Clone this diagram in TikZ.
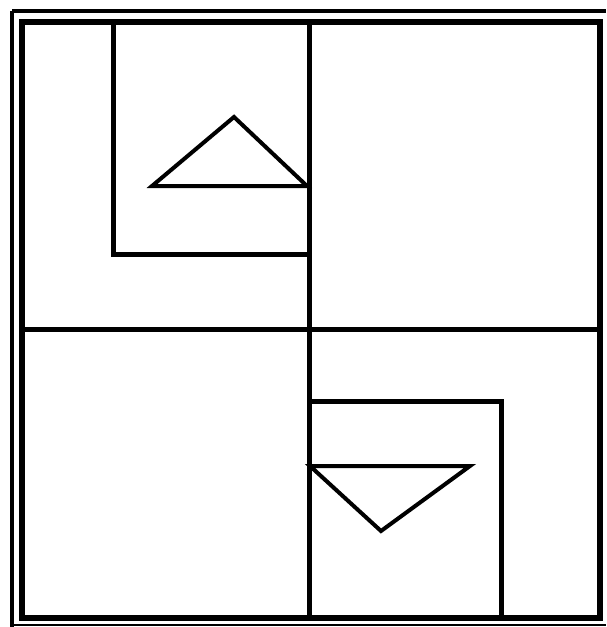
\documentclass[tikz,border=0pt]{standalone}
\begin{document}
\begin{tikzpicture}[x=1pt,y=-1pt,
  frame/.style={draw=black,line width=6pt},
  outerframe/.style={draw=black,line width=4.5pt},
  wall/.style={draw=black,line width=5pt},
  tri/.style={draw=black,line width=4pt,line join=miter}]
\useasboundingbox (0,0) rectangle (606,627);
% frames
\draw[outerframe] (12,11) -- (606,11);
\draw[outerframe] (12,11) -- (12,627);
\draw[draw=black,line width=2pt] (12,625) -- (606,625);
\draw[frame] (22,22) rectangle (600,618);
% coordinates
\coordinate (ct) at (309,22);
\coordinate (cb) at (309,618);
\coordinate (ml) at (22,329);
\coordinate (mr) at (600,329);
\draw[wall] (ct) -- (cb);
\draw[wall] (ml) -- (mr);
% top-left L
\coordinate (l1) at (113,22);
\coordinate (l2) at (113,254);
\coordinate (l3) at (309,254);
\draw[wall] (l1) -- (l2) -- (l3);
% bottom-right L
\coordinate (r1) at (309,401);
\coordinate (r2) at (501,401);
\coordinate (r3) at (501,618);
\draw[wall] (r1) -- (r2) -- (r3);
% triangles
\coordinate (ta) at (234,117);
\coordinate (tl) at (152,186);
\coordinate (tr) at (307,186);
\draw[tri] (ta) -- (tr) -- (tl) -- cycle;
\coordinate (ba) at (381,531);
\coordinate (bl) at (310,466);
\coordinate (br) at (470,466);
\draw[tri] (bl) -- (br) -- (ba) -- cycle;
\end{tikzpicture}
\end{document}
